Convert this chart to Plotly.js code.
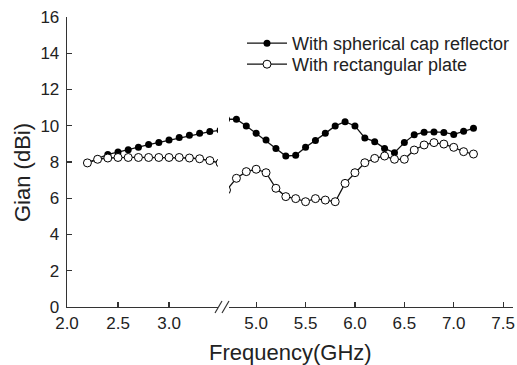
<!DOCTYPE html>
<html>
<head>
<meta charset="utf-8">
<script src="https://cdn.plot.ly/plotly-3.0.1.min.js"></script>
<style>html,body{margin:0;padding:0;background:#fff;}#chart{width:517px;height:365px;}</style>
</head>
<body>
<div id="chart"></div>
<script>
// Low band (GHz) and high band (GHz)
const freqLow = [2.2, 2.3, 2.4, 2.5, 2.6, 2.7, 2.8, 2.9, 3.0, 3.1, 3.2, 3.3, 3.4, 3.5];
const capLow  = [7.95, 8.18, 8.42, 8.55, 8.67, 8.82, 8.96, 9.08, 9.22, 9.35, 9.48, 9.58, 9.68, 9.75];
const plateLow = [7.95, 8.15, 8.22, 8.25, 8.25, 8.25, 8.25, 8.25, 8.25, 8.25, 8.22, 8.18, 8.08, 7.95];

const freqHigh = [4.7, 4.8, 4.9, 5.0, 5.1, 5.2, 5.3, 5.4, 5.5, 5.6, 5.7, 5.8, 5.9, 6.0, 6.1, 6.2, 6.3, 6.4, 6.5, 6.6, 6.7, 6.8, 6.9, 7.0, 7.1, 7.2];
const capHigh  = [10.36, 10.36, 9.99, 9.58, 9.21, 8.75, 8.33, 8.37, 8.81, 9.18, 9.58, 9.99, 10.22, 9.99, 9.33, 9.12, 8.75, 8.51, 9.07, 9.5, 9.64, 9.66, 9.63, 9.52, 9.69, 9.86];
const plateHigh = [6.45, 7.10, 7.47, 7.60, 7.41, 6.55, 6.09, 5.98, 5.81, 5.98, 5.90, 5.81, 6.82, 7.41, 7.96, 8.20, 8.33, 8.15, 8.15, 8.66, 8.94, 9.07, 8.99, 8.81, 8.57, 8.44];

const ticksLow = [2.0, 2.5, 3.0];
const ticksHigh = [5.0, 5.5, 6.0, 6.5, 7.0, 7.5];
const yTicks = [0, 2, 4, 6, 8, 10, 12, 14, 16];

const nameCap = 'With spherical cap reflector';
const namePlate = 'With rectangular plate';
const FONT = 'Arial, "Liberation Sans", sans-serif';

const capMarker = {symbol: 'circle', size: 7, color: '#000', line: {width: 0}};
const plateMarker = {symbol: 'circle', size: 8, color: '#fff', line: {width: 1, color: '#000'}};
const lineStyle = {color: '#111', width: 1.3};

const traces = [
  {x: freqLow, y: capLow, xaxis: 'x', yaxis: 'y', mode: 'lines+markers', name: nameCap, legend: 'legend', marker: capMarker, line: lineStyle},
  {x: freqHigh, y: capHigh, xaxis: 'x2', yaxis: 'y', mode: 'lines+markers', name: nameCap, showlegend: false, marker: capMarker, line: lineStyle},
  {x: freqLow, y: plateLow, xaxis: 'x', yaxis: 'y', mode: 'lines+markers', name: namePlate, legend: 'legend2', marker: plateMarker, line: lineStyle},
  {x: freqHigh, y: plateHigh, xaxis: 'x2', yaxis: 'y', mode: 'lines+markers', name: namePlate, showlegend: false, marker: plateMarker, line: lineStyle}
];

const L = 67, R = 513, T = 17, B = 307;
const W = R - L, H = B - T;
const px = v => (v - L) / W;
const py = v => (B - v) / H;

const axisCommon = {
  showgrid: false, zeroline: false, showline: true, linecolor: '#333', linewidth: 1.3,
  ticks: 'inside', ticklen: 5, tickwidth: 1.2, tickcolor: '#333',
  tickfont: {family: FONT, size: 17, color: '#222'}, tickformat: '.1f', automargin: false
};

const legendCommon = {xanchor: 'left', yanchor: 'top', bgcolor: 'rgba(0,0,0,0)',
  font: {family: FONT, size: 18, color: '#222'}, itemwidth: 40};

const layout = {
  width: 517, height: 365,
  margin: {l: L, r: 517 - R, t: T, b: 365 - B, autoexpand: false},
  paper_bgcolor: '#fff', plot_bgcolor: '#fff',
  showlegend: true,
  legend: Object.assign({}, legendCommon, {x: px(242), y: py(25)}),
  legend2: Object.assign({}, legendCommon, {x: px(242), y: py(46)}),
  xaxis: Object.assign({}, axisCommon, {domain: [0, px(218)], range: [2.0, 3.48], tickvals: ticksLow, anchor: 'y'}),
  xaxis2: Object.assign({}, axisCommon, {domain: [px(229), 1], range: [4.725, 7.6], tickvals: ticksHigh, anchor: 'y'}),
  yaxis: Object.assign({}, axisCommon, {range: [0, 16], tickvals: yTicks, tickformat: 'd', ticklabelstandoff: 3}),
  shapes: [
    {type: 'line', xref: 'paper', yref: 'paper', x0: px(215), y0: py(313), x1: px(222), y1: py(301), line: {color: '#333', width: 1.2}},
    {type: 'line', xref: 'paper', yref: 'paper', x0: px(222), y0: py(313), x1: px(229), y1: py(301), line: {color: '#333', width: 1.2}}
  ],
  annotations: [
    {text: 'Frequency(GHz)', xref: 'paper', yref: 'paper', x: 0.5, y: py(352), xanchor: 'center', yanchor: 'middle', showarrow: false,
     font: {family: FONT, size: 22, color: '#222'}},
    {text: 'Gian (dBi)', xref: 'paper', yref: 'paper', x: px(22), y: py(173), xanchor: 'center', yanchor: 'middle', textangle: -90, showarrow: false,
     font: {family: FONT, size: 22, color: '#222'}}
  ]
};

Plotly.newPlot('chart', traces, layout, {displayModeBar: false, staticPlot: true});
</script>
</body>
</html>
